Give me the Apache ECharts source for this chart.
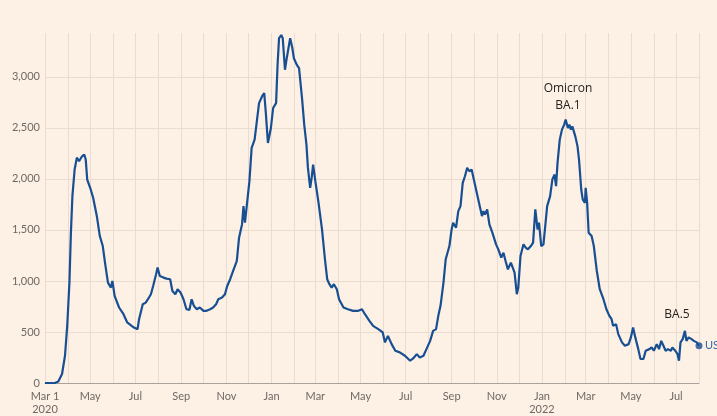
<!DOCTYPE html>
<html>
<head>
<meta charset="utf-8">
<script src="https://cdn.jsdelivr.net/npm/echarts@6/dist/echarts.min.js"></script>
<style>
html,body{margin:0;padding:0;background:#fdf0e5;}
#chart{width:717px;height:416px;}
</style>
</head>
<body>
<div id="chart"></div>
<script>
// Days since 1 Mar 2020 and the 7-day average of daily deaths
const startDate = [2020, 2, 1];
const daysSinceStart = [
0,14,18,23,27,30,33,35,37,40,43,46,50,53,55,57,61,65,70,74,78,81,85,89,91,94,100,106,111,117,120,122,125,127,132,136,139,143,146,150,152,155,160,164,169,172,176,179,183,187,191,195,198,201,205,209,214,218,223,227,231,234,239,243,246,250,254,259,262,266,268,270,272,276,279,283,286,289,293,296,298,301,305,308,312,314,316,319,321,324,326,328,331,334,336,340,343,347,350,353,355,358,360,362,365,369,374,378,381,384,387,390,394,397,403,409,416,423,428,432,438,443,450,456,459,463,468,473,479,486,493,497,502,506,511,515,520,524,528,531,534,538,541,546,549,551,555,558,561,564,567,570,573,576,579,584,587,590,592,594,597,600,604,609,612,616,619,622,625,629,631,634,637,639,642,646,649,652,656,659,662,665,667,670,673,675,678,682,685,688,690,692,695,698,701,703,706,708,710,712,716,719,721,724,726,729,730,732,734,738,741,745,749,754,758,762,765,767,771,774,779,783,788,791,794,797,801,804,808,811,816,819,822,826,829,832,835,838,841,845,847,851,854,856,858,861,864,866,869,873,876,880,883
];
const deaths = [
0,2,15,88,267,560,987,1476,1831,2092,2209,2173,2222,2239,2190,1994,1913,1815,1635,1440,1342,1180,984,935,1000,853,740,674,593,560,544,528,528,625,772,788,821,870,951,1065,1131,1049,1033,1023,1017,902,870,919,887,821,723,717,821,756,723,740,707,707,723,740,772,821,837,870,951,1017,1098,1196,1424,1554,1733,1571,1587,1978,2304,2385,2564,2743,2808,2841,2662,2352,2499,2695,2743,3118,3380,3410,3379,3070,3167,3151,3379,3280,3183,3118,3086,2793,2532,2336,2108,1913,2010,2141,1978,1782,1505,1212,1017,968,935,968,919,821,740,723,707,707,723,674,609,560,528,495,398,462,381,316,300,267,218,241,283,251,267,332,413,511,528,658,756,984,1212,1342,1505,1571,1522,1684,1733,1961,2026,2108,2075,2092,1994,1831,1733,1636,1684,1652,1701,1554,1473,1359,1310,1229,1277,1190,1114,1180,1163,1082,870,935,1244,1359,1326,1310,1342,1375,1701,1505,1571,1342,1359,1359,1733,1831,1994,2043,1929,2157,2385,2483,2532,2581,2499,2532,2483,2515,2417,2319,2190,1896,1799,1766,1913,1766,1473,1440,1342,1100,919,821,723,658,625,560,577,479,398,365,381,447,544,447,332,235,235,316,332,348,316,381,332,413,365,316,332,316,348,316,283,218,398,430,511,413,447,430,413,398,365
];
const yTicks = [0, 500, 1000, 1500, 2000, 2500, 3000];
const monthNames = ['Jan','Feb','Mar','Apr','May','Jun','Jul','Aug','Sep','Oct','Nov','Dec'];
const seriesName = 'US';
const annotations = [
  {text: 'Omicron\nBA.1'},
  {text: 'BA.5'}
];

const DAY = 86400000;
const t0 = new Date(startDate[0], startDate[1], startDate[2]).getTime();
const toTime = d => new Date(startDate[0], startDate[1], startDate[2] + d).getTime();
const lineData = daysSinceStart.map((d, i) => [toTime(d), deaths[i]]);
const last = lineData[lineData.length - 1];

const gridColor = '#ecdcd0';
const labelColor = '#6f6964';
const lineColor = '#174f92';
const fontFamily = 'Lato, "Noto Sans", sans-serif';

const chart = echarts.init(document.getElementById('chart'), null, {renderer: 'canvas'});
const yMax = 3430;
const splitColors = yTicks.map(() => gridColor).concat(['rgba(0,0,0,0)']);

chart.setOption({
  backgroundColor: '#fdf0e5',
  animation: false,
  grid: {left: 45, right: 18, top: 33, bottom: 32, containLabel: false},
  xAxis: {
    type: 'time',
    min: t0,
    max: last[0],
    minInterval: 28 * DAY,
    maxInterval: 31 * DAY,
    axisLine: {show: true, lineStyle: {color: '#aaa29c', width: 1}},
    axisTick: {show: false},
    splitLine: {show: true, lineStyle: {color: gridColor, width: 1}},
    axisLabel: {
      show: true,
      showMinLabel: true,
      showMaxLabel: false,
      hideOverlap: false,
      margin: 7,
      color: labelColor,
      fontSize: 11,
      lineHeight: 13,
      fontFamily: fontFamily,
      formatter: function (value) {
        const d = new Date(value);
        if (d.getDate() !== 1) return '';
        const m = d.getMonth();
        if (m % 2 !== 0) return '';
        const y = d.getFullYear();
        if (y === startDate[0] && m === startDate[1]) return 'Mar 1\n' + y;
        if (m === 0 && y === 2022) return 'Jan\n' + y;
        return monthNames[m];
      }
    }
  },
  yAxis: {
    type: 'value',
    min: 0,
    max: yMax,
    interval: 500,
    axisLine: {show: false},
    axisTick: {show: false},
    splitLine: {show: true, lineStyle: {color: splitColors, width: 1}},
    axisLabel: {
      margin: 5,
      color: labelColor,
      fontSize: 11,
      fontFamily: fontFamily,
      formatter: function (v) {
        if (yTicks.indexOf(v) === -1) return '';
        return v.toLocaleString('en-US');
      }
    }
  },
  series: [
    {
      name: seriesName,
      type: 'line',
      data: lineData,
      showSymbol: false,
      smooth: false,
      lineStyle: {color: lineColor, width: 2.2},
      itemStyle: {color: lineColor},
      endLabel: {
        show: true,
        formatter: seriesName,
        color: '#2f6aa8',
        fontSize: 11,
        fontFamily: fontFamily,
        distance: 6
      },
      z: 3
    },
    {
      type: 'scatter',
      data: [last],
      symbol: 'circle',
      symbolSize: 7,
      itemStyle: {color: lineColor},
      silent: true,
      z: 4
    }
  ],
  graphic: {
    elements: [
      {
        type: 'text',
        x: 568, y: 80,
        z: 100,
        style: {
          text: annotations[0].text,
          fill: '#26231f',
          font: '12px "Open Sans", sans-serif',
          align: 'center',
          verticalAlign: 'top',
          lineHeight: 17
        }
      },
      {
        type: 'text',
        x: 677, y: 309,
        z: 100,
        style: {
          text: annotations[1].text,
          fill: '#26231f',
          font: '12px "Open Sans", sans-serif',
          align: 'center',
          verticalAlign: 'top'
        }
      }
    ]
  }
});
</script>
</body>
</html>
